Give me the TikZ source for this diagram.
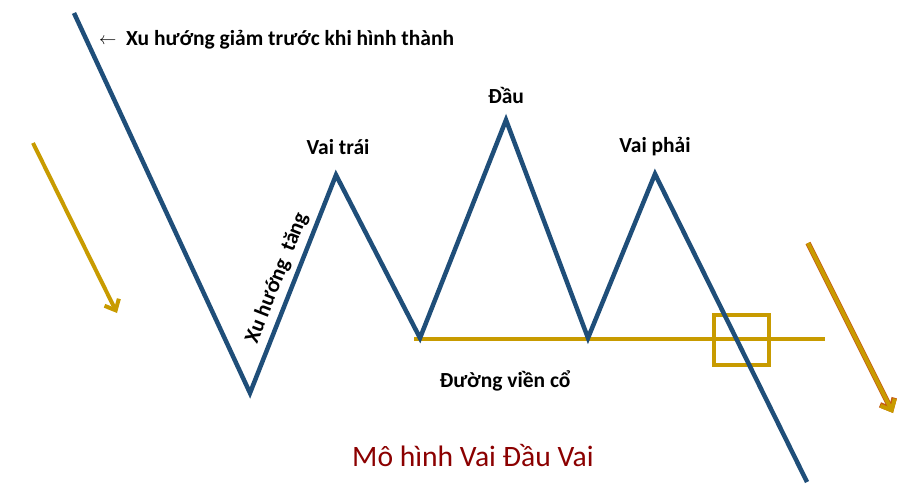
\documentclass[tikz,border=0pt]{standalone}
\usepackage{fontspec}
\setmainfont{Carlito}
\usetikzlibrary{arrows.meta}
\definecolor{trend}{RGB}{31,78,121}
\definecolor{gold}{RGB}{200,155,0}
\definecolor{rust}{RGB}{197,90,17}
\definecolor{titlered}{RGB}{139,0,0}
\tikzset{
  trendline/.style={draw=trend,line width=4.5pt,line join=miter},
  neckline/.style={draw=gold,line width=4pt},
  goldarrow/.style={draw=gold,line width=4pt,-{Straight Barb[length=9pt,width=16pt,line width=4pt]}},
  label/.style={font=\bfseries\fontsize{21.5}{24}\selectfont,inner sep=0pt},
}
\begin{document}
\begin{tikzpicture}[x=1pt,y=-1pt]
\useasboundingbox (0,0) rectangle (909,492);
% trend points
\coordinate (s) at (74,13);
\coordinate (l1) at (250,393);
\coordinate (ls) at (336,175);
\coordinate (t1) at (420,338);
\coordinate (hd) at (506,120);
\coordinate (t2) at (588,338);
\coordinate (rs) at (655,174);
\coordinate (e) at (807,482);
\coordinate (nA) at (414,339);
\coordinate (nB) at (825,339);
% neckline
\draw[neckline] (nA) -- (nB);
% break box
\node[draw=gold,line width=3.5pt,minimum width=55pt,minimum height=50pt,inner sep=0pt] (box) at (741.5,340) {};
% trend line
\draw[trendline] (s) -- (l1) -- (ls) -- (t1) -- (hd) -- (t2) -- (rs) -- (e);
% arrows
\coordinate (a1s) at (33,143);
\coordinate (a1e) at (117,313);
\draw[goldarrow] (a1s) -- (a1e);
\coordinate (a2s) at (808,243);
\coordinate (a2e) at (893,413);
\draw[draw=rust,line width=5.5pt,-{Straight Barb[length=9pt,width=16pt,line width=5.5pt]}] (a2s) -- (a2e);
\draw[goldarrow] (a2s) -- (a2e);
% labels
\node[inner sep=0pt,anchor=west,font=\fontsize{19}{20}\selectfont] (arr) at (99,41) {$\leftarrow$};
\node[label,anchor=west] (pre) at (126,40) {Xu hướng giảm trước khi hình thành};
\node[label] (lvt) at (338,147) {Vai trái};
\node[label] (ldau) at (506,95) {Đầu};
\node[label] (lvp) at (655,147) {Vai phải};
\node[label,rotate=68.5] (lup) at (277,278) {Xu hướng\ \ tăng};
\node[label] (lneck) at (505,381) {Đường viền cổ};
\node[inner sep=0pt,text=titlered,font=\fontsize{29.6}{34}\selectfont] (title) at (473,456) {Mô hình Vai Đầu Vai};
\end{tikzpicture}
\end{document}
